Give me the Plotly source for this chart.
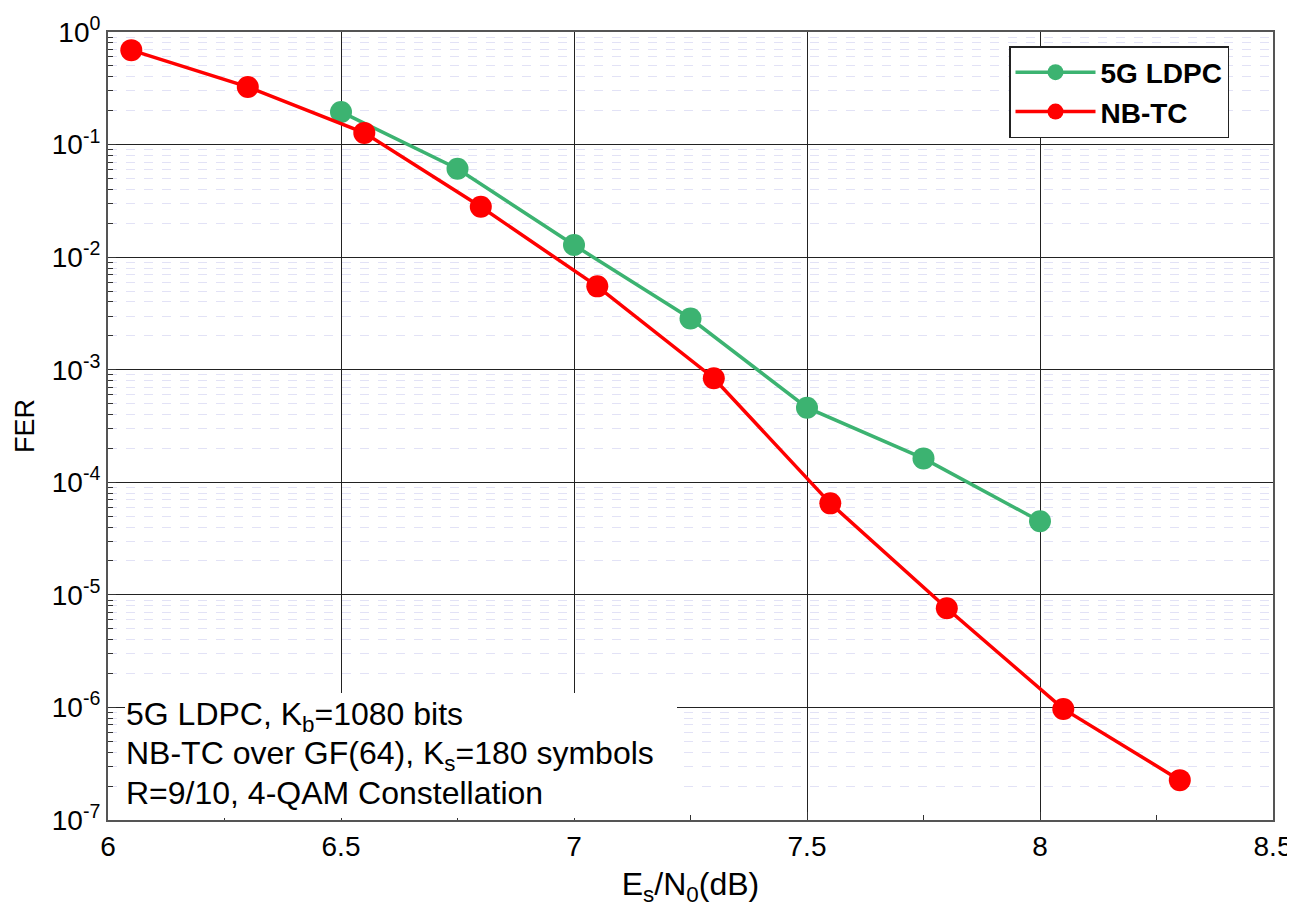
import plotly.graph_objects as go

# Data
nbtc_x = [6.05, 6.3, 6.55, 6.8, 7.05, 7.3, 7.55, 7.8, 8.05, 8.3]
nbtc_y = [0.69, 0.325, 0.127, 0.028, 5.5e-3, 8.4e-4, 6.5e-5, 7.6e-6, 9.7e-7, 2.26e-7]
ldpc_x = [6.5, 6.75, 7.0, 7.25, 7.5, 7.75, 8.0]
ldpc_y = [0.195, 0.061, 0.0128, 2.85e-3, 4.6e-4, 1.63e-4, 4.5e-5]

y_major = [10.0 ** (-k) for k in range(0, 8)]
y_major_text = ["10<sup>0</sup>"] + ["10<sup>-%d</sup>" % k for k in range(1, 8)]
y_minor = [m * 10.0 ** (-k) for k in range(1, 8) for m in range(2, 10)]
x_major = [6, 6.5, 7, 7.5, 8, 8.5]
x_major_text = ["6", "6.5", "7", "7.5", "8", "8.5"]
info_lines = [
    "5G LDPC, K<sub>b</sub>=1080 bits",
    "NB-TC over GF(64), K<sub>s</sub>=180 symbols",
    "R=9/10, 4-QAM Constellation",
]

FONT = "Liberation Sans"
OFF = 8  # page body margin
W, H = 1295 - OFF, 907 - OFF
L, R, T, B = 108 - OFF, 22, 32 - OFF, 87
PW, PH = W - L - R, H - T - B


def px_x(p):
    # screen pixel -> paper fraction
    return (p - OFF - L) / PW


def px_y(p):
    return (H - B - (p - OFF)) / PH


fig = go.Figure()
fig.add_trace(go.Scatter(
    x=ldpc_x, y=ldpc_y, mode="lines+markers", name="<b>5G LDPC</b>",
    line=dict(color="#3cb371", width=3.5),
    marker=dict(color="#3cb371", size=22),
))
fig.add_trace(go.Scatter(
    x=nbtc_x, y=nbtc_y, mode="lines+markers", name="<b>NB-TC</b>",
    line=dict(color="#ff0000", width=3.5),
    marker=dict(color="#ff0000", size=22),
))

fig.update_layout(
    width=W, height=H,
    margin=dict(l=L, r=R, t=T, b=B, autoexpand=False),
    paper_bgcolor="white", plot_bgcolor="white",
    font=dict(family=FONT, color="black", size=28),
    showlegend=True,
    legend=dict(
        x=px_x(1009), y=px_y(46), xanchor="left", yanchor="top",
        bgcolor="white", bordercolor="#222", borderwidth=1.5,
        font=dict(family=FONT, size=28, color="black"),
        itemwidth=80,
    ),
)

fig.update_xaxes(
    range=[6, 8.5], automargin=False,
    tickmode="array", tickvals=x_major, ticktext=x_major_text,
    ticks="inside", ticklen=8, tickcolor="#333",
    showgrid=True, gridcolor="#222", gridwidth=1,
    showline=True, linecolor="#555", linewidth=2, mirror=True,
    zeroline=False,
    tickfont=dict(size=28),
    minor=dict(dtick=0.25, tick0=6, ticks="inside", ticklen=5, tickcolor="#333", showgrid=False),
    title=dict(text="E<sub>s</sub>/N<sub>0</sub>(dB)", font=dict(size=32), standoff=18),
)
fig.update_yaxes(
    type="log", range=[-7, 0], automargin=False,
    tickmode="array", tickvals=y_major, ticktext=y_major_text,
    ticks="inside", ticklen=8, tickcolor="#333",
    showgrid=True, gridcolor="#222", gridwidth=1,
    showline=True, linecolor="#555", linewidth=2, mirror=True,
    zeroline=False,
    tickfont=dict(size=28),
    minor=dict(tickmode="array", tickvals=y_minor, ticks="inside", ticklen=5,
               tickcolor="#333", showgrid=True, gridcolor="#e2e2f6",
               griddash="dash", gridwidth=1),
    title=dict(text="FER", font=dict(size=27), standoff=9),
)

# Info box
fig.add_shape(type="rect", xref="paper", yref="paper",
              x0=px_x(125), x1=px_x(677), y0=px_y(818), y1=px_y(693),
              fillcolor="white", line=dict(width=0), layer="above")
for line_text, yc in zip(info_lines, [716, 755, 793]):
    fig.add_annotation(
        xref="paper", yref="paper", x=px_x(124), y=px_y(yc),
        xanchor="left", yanchor="middle", align="left", showarrow=False,
        text=line_text,
        font=dict(family=FONT, size=32, color="black"),
    )

fig.write_html("out.html")
